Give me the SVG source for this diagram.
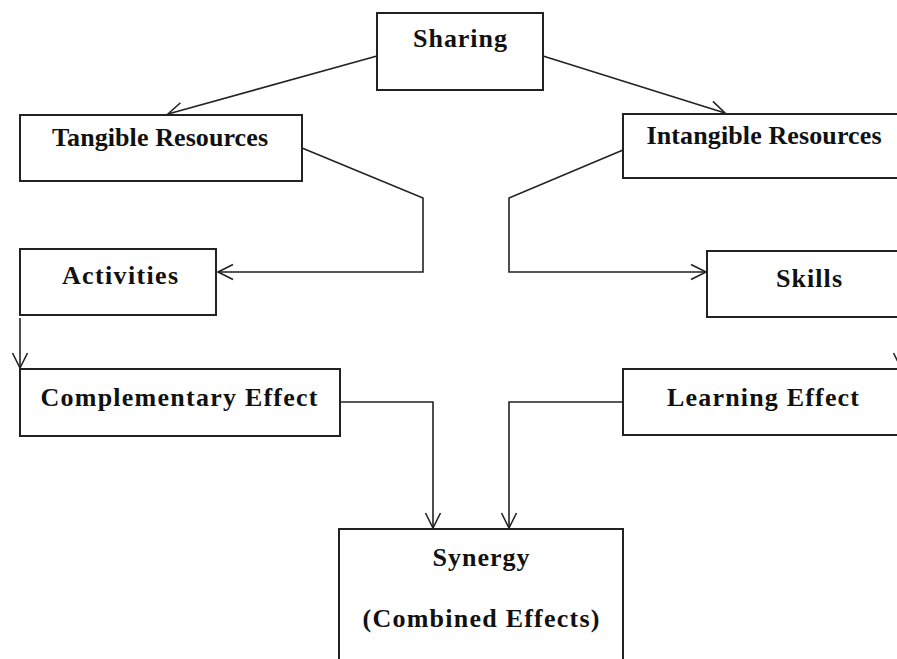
<svg xmlns="http://www.w3.org/2000/svg" width="897" height="659" viewBox="0 0 897 659">
<defs>
<style>
.box{fill:#fff;stroke:#222;stroke-width:2}
.lbl{font-family:"Liberation Serif","Times New Roman",serif;font-weight:bold;font-size:26px;fill:#111;text-anchor:middle}
.con{fill:none;stroke:#222;stroke-width:1.6}
</style>
<marker id="arr" markerUnits="userSpaceOnUse" markerWidth="20" markerHeight="20" viewBox="0 0 20 20" refX="16" refY="10" orient="auto">
<path d="M1,2.5 L16,10 L1,17.5" fill="none" stroke="#222" stroke-width="1.6"/>
</marker>
</defs>
<rect width="897" height="659" fill="#fff"/>
<g id="connectors">
<line class="con" x1="377" y1="56" x2="168" y2="114" marker-end="url(#arr)"/>
<line class="con" x1="543" y1="56" x2="725" y2="113" marker-end="url(#arr)"/>
<polyline class="con" points="302,148 423,198 423,272 218,272" marker-end="url(#arr)"/>
<polyline class="con" points="623,150 509,198 509,272 706,272" marker-end="url(#arr)"/>
<line class="con" x1="20" y1="318" x2="20" y2="368" marker-end="url(#arr)"/>
<line class="con" x1="901" y1="318" x2="901" y2="368" marker-end="url(#arr)"/>
<polyline class="con" points="340,402 433,402 433,528" marker-end="url(#arr)"/>
<polyline class="con" points="623,402 509,402 509,528" marker-end="url(#arr)"/>
</g>
<g id="sharing"><rect class="box" x="377" y="13" width="166" height="77"/><text class="lbl" x="460" y="47" textLength="94" lengthAdjust="spacing">Sharing</text></g>
<g id="tangible"><rect class="box" x="20" y="115" width="282" height="66"/><text class="lbl" x="160" y="146" textLength="216" lengthAdjust="spacing">Tangible Resources</text></g>
<g id="intangible"><rect class="box" x="623" y="114" width="290" height="64"/><text class="lbl" x="764" y="144" textLength="235" lengthAdjust="spacing">Intangible Resources</text></g>
<g id="activities"><rect class="box" x="20" y="249" width="196" height="66"/><text class="lbl" x="120" y="284" textLength="116" lengthAdjust="spacing">Activities</text></g>
<g id="skills"><rect class="box" x="707" y="251" width="200" height="66"/><text class="lbl" x="809" y="287" textLength="66" lengthAdjust="spacing">Skills</text></g>
<g id="complementary"><rect class="box" x="20" y="369" width="320" height="67"/><text class="lbl" x="179" y="406" textLength="277" lengthAdjust="spacing">Complementary Effect</text></g>
<g id="learning"><rect class="box" x="623" y="369" width="290" height="66"/><text class="lbl" x="763" y="406" textLength="192" lengthAdjust="spacing">Learning Effect</text></g>
<g id="synergy"><rect class="box" x="339" y="529" width="284" height="150"/><text class="lbl" x="481" y="566" textLength="97" lengthAdjust="spacing">Synergy</text><text class="lbl" x="481" y="627" textLength="237" lengthAdjust="spacing">(Combined Effects)</text></g>
</svg>
